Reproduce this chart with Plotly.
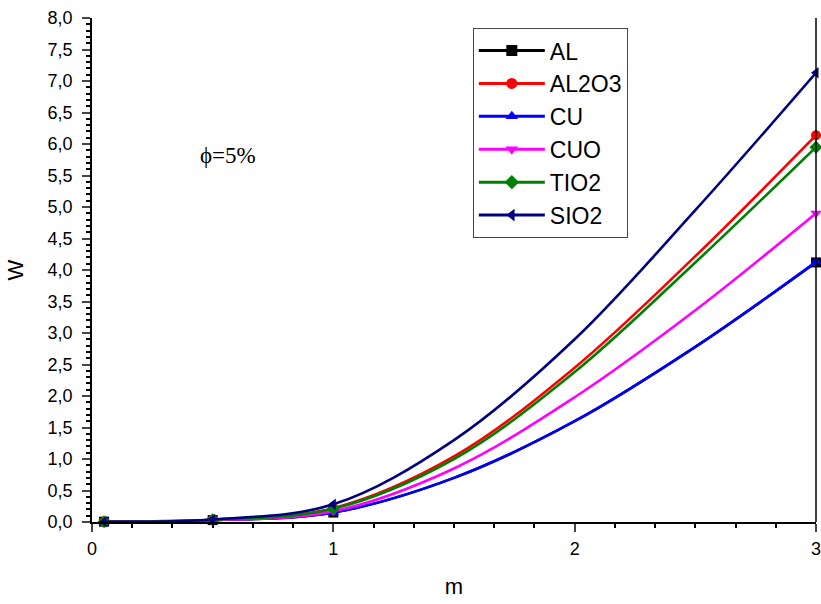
import plotly.graph_objects as go

# Data
m_values = [0.05, 0.5, 1.0, 1.5, 2.0, 2.5, 3.0]
marker_m = [0.05, 0.5, 1.0, 3.0]

W_AL    = [0.005, 0.030, 0.15, 0.70, 1.60, 2.78, 4.12]
W_AL2O3 = [0.005, 0.035, 0.22, 1.04, 2.45, 4.22, 6.14]
W_CU    = [0.005, 0.030, 0.15, 0.70, 1.60, 2.78, 4.13]
W_CUO   = [0.005, 0.030, 0.17, 0.85, 1.98, 3.36, 4.90]
W_TIO2  = [0.005, 0.035, 0.21, 1.00, 2.38, 4.12, 5.95]
W_SIO2  = [0.005, 0.040, 0.28, 1.30, 2.90, 4.95, 7.13]

series_names = ["AL", "AL2O3", "CU", "CUO", "TIO2", "SIO2"]
series_values = [W_AL, W_AL2O3, W_CU, W_CUO, W_TIO2, W_SIO2]
colors = ["#000000", "#FF0000", "#0000FF", "#FF00FF", "#008000", "#000080"]
symbols = ["square", "circle", "triangle-up", "triangle-down", "diamond", "triangle-left"]

fig = go.Figure()
for name, vals, col, sym in zip(series_names, series_values, colors, symbols):
    # smooth curve
    fig.add_trace(go.Scatter(
        x=m_values, y=vals, mode="lines", line=dict(color=col, width=2.6, shape="spline", smoothing=1.0),
        showlegend=False, hoverinfo="skip", cliponaxis=False))
    # markers at data points
    mx = [x for x in m_values if x in marker_m]
    my = [v for x, v in zip(m_values, vals) if x in marker_m]
    fig.add_trace(go.Scatter(
        x=mx, y=my, mode="markers", marker=dict(symbol=sym, color=col, size=10),
        showlegend=False, cliponaxis=False))
    # legend entry
    fig.add_trace(go.Scatter(
        x=[None], y=[None], mode="lines+markers", name=name,
        line=dict(color=col, width=3), marker=dict(symbol=sym, color=col, size=11)))

fig.update_layout(
    width=821, height=604,
    margin=dict(l=92, r=5, t=18, b=82),
    paper_bgcolor="white", plot_bgcolor="white",
    separators=",.",
    font=dict(family="Liberation Sans, Arial, sans-serif", color="black", size=18),
    showlegend=True,
    legend=dict(x=0.526, y=0.98, xanchor="left", yanchor="top",
                bordercolor="#444444", borderwidth=1, bgcolor="white",
                font=dict(size=23), tracegroupgap=0, itemwidth=66),
    xaxis=dict(range=[0, 3], tickvals=[0, 1, 2, 3], ticks="outside", ticklen=8, tickwidth=1.5,
               showline=True, linecolor="black", linewidth=1.5, showgrid=False, zeroline=False,
               tickfont=dict(size=18), automargin=False, ticklabelstandoff=2,
               ticklabeloverflow="allow",
               minor=dict(dtick=1/6, ticks="outside", ticklen=4, tickwidth=1.5, tickcolor="black", showgrid=False),
               title=dict(text="m", font=dict(size=22), standoff=20)),
    yaxis=dict(range=[0, 8], dtick=0.5, tickformat=".1f", ticks="outside", ticklen=8, tickwidth=1.5,
               showline=True, linecolor="black", linewidth=1.5, showgrid=False, zeroline=False,
               tickfont=dict(size=18), automargin=False, ticklabelstandoff=6,
               ticklabeloverflow="allow",
               minor=dict(dtick=0.1, ticks="outside", ticklen=4, tickwidth=1.5, tickcolor="black", showgrid=False),
               title=dict(text="W", font=dict(size=22), standoff=18)),
    shapes=[dict(type="line", xref="paper", yref="paper", x0=1, x1=1, y0=0, y1=1,
                 line=dict(color="black", width=1.5))],
    annotations=[dict(text="ϕ=5%", x=0.188, y=0.728, xref="paper", yref="paper", showarrow=False,
                      xanchor="center", yanchor="middle",
                      font=dict(family="Liberation Serif, Times New Roman, serif", size=23, color="black"))],
)

fig.write_html("out.html", post_script="document.body.style.margin='0px';",
               config={"displayModeBar": False})
